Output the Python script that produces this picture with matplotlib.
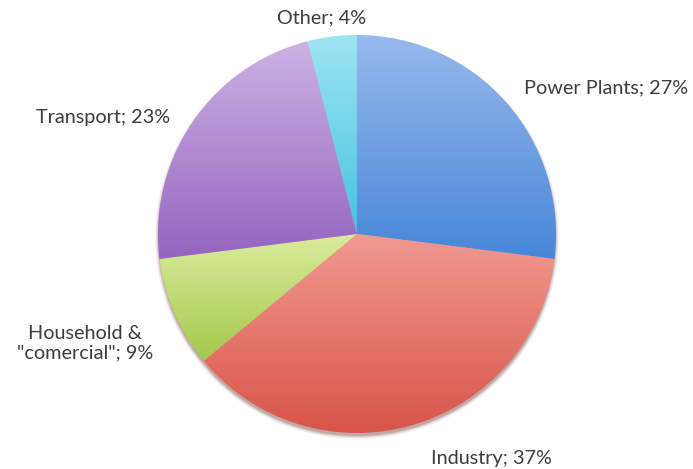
import numpy as np
import matplotlib
matplotlib.use("Agg")
import matplotlib.pyplot as plt
from matplotlib.colors import LinearSegmentedColormap
from matplotlib.patches import Circle

# Emission sources (share in percent)
categories = ["Power Plants", "Industry", "Household &\n\"comercial\"", "Transport", "Other"]
shares = [27, 37, 9, 23, 4]

# gradient colours per slice: (light top, dark bottom)
light_cols = ["#97b9ec", "#f19a90", "#dbeb9c", "#cdb2e4", "#9ee4f3"]
dark_cols = ["#4886d8", "#d9544a", "#a3c94c", "#9464bf", "#45c3e0"]

W, H = 693, 469
fig = plt.figure(figsize=(W / 100, H / 100), dpi=100)
ax = fig.add_axes([0, 0, 1, 1])

cx, cy, r = 357, H - 234, 199

# soft drop shadow under the pie
for k, a in enumerate([0.05, 0.08, 0.12, 0.18]):
    ax.add_patch(Circle((cx, cy - 3), r + 3 - k, facecolor="#5a1a14",
                        edgecolor="none", alpha=a, zorder=0.5))

wedges, _ = ax.pie(shares, startangle=90, counterclock=False, center=(cx, cy),
                   radius=r, frame=True,
                   wedgeprops=dict(facecolor="none", edgecolor="none"))

grad = np.linspace(0, 1, 256).reshape(-1, 1)
for w, lc, dc in zip(wedges, light_cols, dark_cols):
    cmap = LinearSegmentedColormap.from_list("g", [dc, lc])
    bb = w.get_path().get_extents(w.get_patch_transform())
    im = ax.imshow(grad, cmap=cmap, origin="lower", aspect="auto",
                   extent=[bb.x0, bb.x1, bb.y0, bb.y1], zorder=1,
                   interpolation="bilinear")
    im.set_clip_path(w)

ax.set_xlim(0, W)
ax.set_ylim(0, H)
ax.set_aspect("equal")
ax.axis("off")

label_pos = [(606, H - 88), (491, H - 458), (85, H - 343), (103, H - 117), (322, H - 18)]
for name, s, (lx, ly) in zip(categories, shares, label_pos):
    ax.text(lx, ly, f"{name}; {s}%", ha="center", va="center",
            fontsize=14.3, family="Lato", color="#3c3c3c", linespacing=1.15)

fig.savefig("out.png", dpi=100)
